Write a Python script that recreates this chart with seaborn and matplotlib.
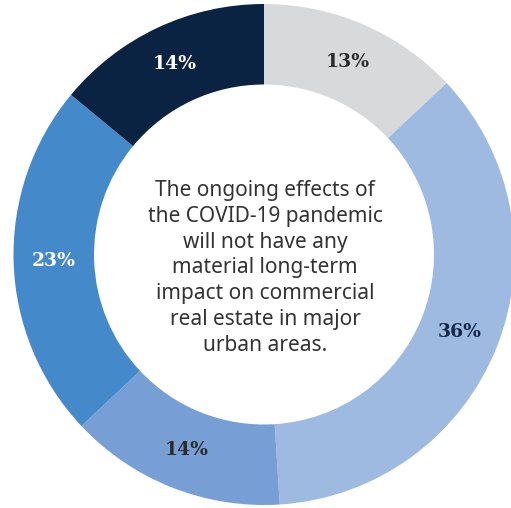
import matplotlib
matplotlib.use('Agg')
import matplotlib.pyplot as plt
import seaborn as sns
import numpy as np

# data
labels = ['13%', '36%', '14%', '23%', '14%']
shares = [13, 36, 14, 23, 14]
colors = ['#d8d9db', '#9fbae1', '#779fd5', '#4489c9', '#0b2343']
label_colors = ['#2b2b2b', '#15284a', '#2b2b2b', '#ffffff', '#ffffff']
center_text = ('The ongoing effects of\nthe COVID-19 pandemic\nwill not have any\n'
               'material long-term\nimpact on commercial\nreal estate in major\nurban areas.')

sns.set_theme(style='white')

W, H = 511, 508
cx, cy = 264, 254.5
r_out, r_in = 250.5, 170

fig = plt.figure(figsize=(W / 100, H / 100), dpi=100)
ax = fig.add_axes([0, 0, 1, 1])

wedges, _ = ax.pie(shares, radius=r_out, startangle=90, counterclock=False,
                   colors=colors,
                   wedgeprops=dict(width=r_out - r_in, linewidth=0))

r_lab = (r_out + r_in) / 2
for w, lab, c in zip(wedges, labels, label_colors):
    ang = np.deg2rad((w.theta1 + w.theta2) / 2)
    ax.text(r_lab * np.cos(ang), r_lab * np.sin(ang), lab,
            ha='center', va='center', fontsize=13.5, fontweight='bold',
            color=c, family=['DejaVu Serif'])

ax.text(1, -13.5, center_text, ha='center', va='center', fontsize=15,
        color='#333333', family=['Noto Sans'], linespacing=1.31)

ax.set_xlim(-cx, W - cx)
ax.set_ylim(-(H - cy), cy)
ax.set_aspect('equal')
ax.axis('off')

fig.savefig('out.png', dpi=100, facecolor='white')
